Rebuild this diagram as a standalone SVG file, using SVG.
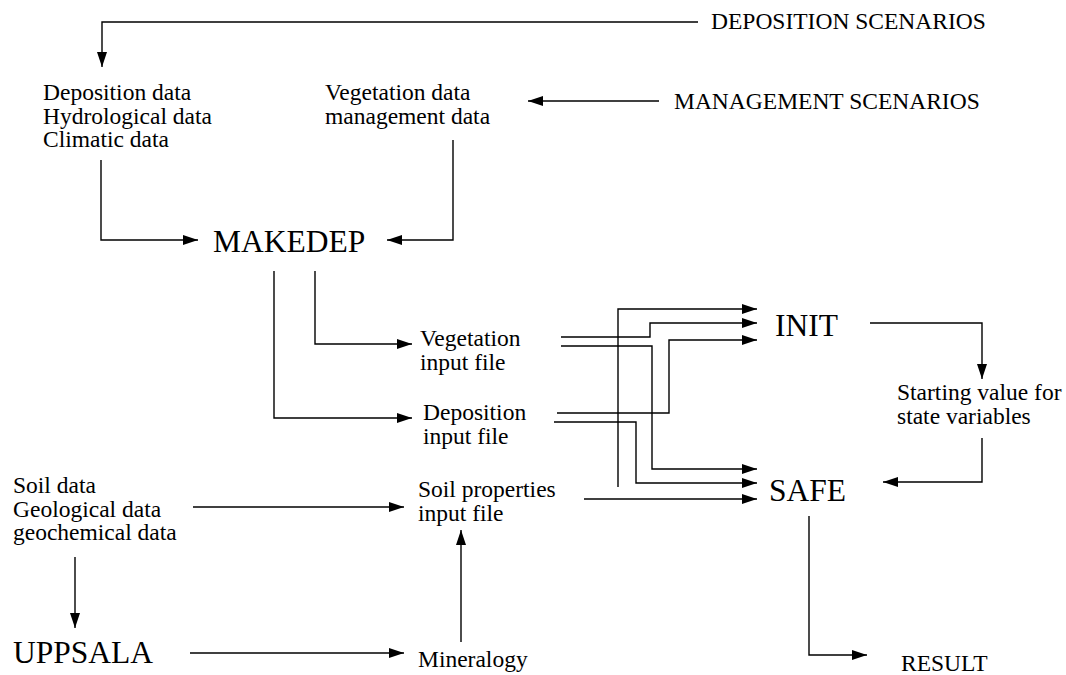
<svg xmlns="http://www.w3.org/2000/svg" width="1066" height="675" viewBox="0 0 1066 675" font-family="Liberation Serif, serif">
<defs>
<style>
text{font-family:'Liberation Serif',serif;fill:#000}
.s{font-size:23.5px}
.b{font-size:31.5px}
.c{fill:none;stroke:#000;stroke-width:1.4;marker-end:url(#ah)}
</style>
<marker id="ah" markerUnits="userSpaceOnUse" markerWidth="16" markerHeight="10" refX="15" refY="5" orient="auto">
<path d="M0,0 L15,5 L0,10 z" fill="#000"/>
</marker>
</defs>
<rect width="1066" height="675" fill="#fff"/>
<g id="connectors">
<path class="c" d="M698,22 H102 V67"/>
<path class="c" d="M659,101 H528"/>
<path class="c" d="M101,160 V240 H198"/>
<path class="c" d="M453,140 V240 H387"/>
<path class="c" d="M315,271 V344 H412"/>
<path class="c" d="M274,271 V418 H412"/>
<path class="c" d="M618,487 V309 H757"/>
<path class="c" d="M561,337 H650 V323 H757"/>
<path class="c" d="M561,346 H652 V469 H757"/>
<path class="c" d="M557,413 H669 V340 H757"/>
<path class="c" d="M554,422 H636 V483 H757"/>
<path class="c" d="M584,499 H757"/>
<path class="c" d="M870,323 H982 V379"/>
<path class="c" d="M982,438 V482 H883"/>
<path class="c" d="M809,516 V655 H867"/>
<path class="c" d="M193,507 H404"/>
<path class="c" d="M75,557 V628"/>
<path class="c" d="M190,653 H404"/>
<path class="c" d="M461,642 V530"/>
</g>
<g id="deposition-scenarios"><text class="s" x="711" y="29">DEPOSITION SCENARIOS</text></g>
<g id="management-scenarios"><text class="s" x="674" y="109">MANAGEMENT SCENARIOS</text></g>
<g id="climate-data"><text class="s" x="43" y="100">Deposition data</text><text class="s" x="43" y="123.5">Hydrological data</text><text class="s" x="43" y="147">Climatic data</text></g>
<g id="vegetation-data"><text class="s" x="325" y="100">Vegetation data</text><text class="s" x="325" y="123.5">management data</text></g>
<g id="makedep"><text class="b" x="213" y="252">MAKEDEP</text></g>
<g id="vegetation-input"><text class="s" x="420" y="346">Vegetation</text><text class="s" x="420" y="369.5">input file</text></g>
<g id="deposition-input"><text class="s" x="423" y="420">Deposition</text><text class="s" x="423" y="443.5">input file</text></g>
<g id="soil-properties"><text class="s" x="418" y="497">Soil properties</text><text class="s" x="418" y="521">input file</text></g>
<g id="init"><text class="b" x="775" y="336">INIT</text></g>
<g id="safe"><text class="b" x="769" y="501">SAFE</text></g>
<g id="starting-values"><text class="s" x="897" y="400">Starting value for</text><text class="s" x="897" y="423.5">state variables</text></g>
<g id="soil-data"><text class="s" x="13" y="493">Soil data</text><text class="s" x="13" y="516.5">Geological data</text><text class="s" x="13" y="540">geochemical data</text></g>
<g id="uppsala"><text class="b" x="13" y="663">UPPSALA</text></g>
<g id="mineralogy"><text class="s" x="418" y="667">Mineralogy</text></g>
<g id="result"><text class="s" x="901" y="671">RESULT</text></g>
</svg>
